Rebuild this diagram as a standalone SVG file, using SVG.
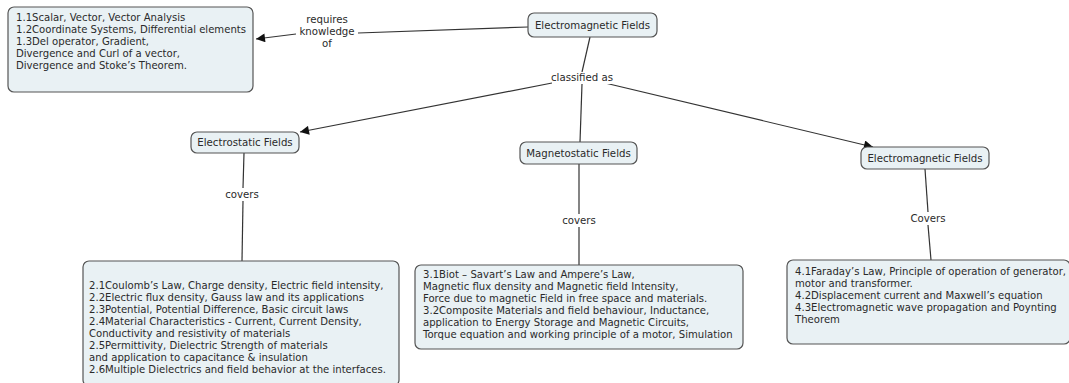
<svg xmlns="http://www.w3.org/2000/svg" width="1069" height="383" viewBox="0 0 1069 383">
<defs>
<marker id="arr" viewBox="0 0 10 10" refX="10" refY="5" markerWidth="12" markerHeight="9" markerUnits="userSpaceOnUse" orient="auto">
<path d="M0,0 L10,5 L0,10 z" fill="#111"/>
</marker>
<style>
.box{fill:#e9f1f4;stroke:#555;stroke-width:1.2}
.t{font-family:"DejaVu Sans",Verdana,sans-serif;font-size:10.1px;fill:#2a2a2a}
.n{font-family:"DejaVu Sans",Verdana,sans-serif;font-size:10.2px;fill:#2a2a2a;text-anchor:middle}
.l{font-family:"DejaVu Sans",Verdana,sans-serif;font-size:10.2px;fill:#2a2a2a;text-anchor:middle}
.c{stroke:#333;stroke-width:1.2;fill:none}
</style>
</defs>
<rect width="1069" height="383" fill="#fff"/>
<g id="connectors">
<line class="c" x1="296" y1="34" x2="256" y2="39" marker-end="url(#arr)"/>
<line class="c" x1="358" y1="33" x2="528" y2="27"/>
<line class="c" x1="590" y1="37" x2="582" y2="72"/>
<line class="c" x1="582" y1="84" x2="580" y2="142"/>
<line class="c" x1="552" y1="83" x2="300" y2="132" marker-end="url(#arr)"/>
<line class="c" x1="605" y1="83" x2="873" y2="147" marker-end="url(#arr)"/>
<line class="c" x1="244" y1="153" x2="243" y2="188"/>
<line class="c" x1="243" y1="201" x2="242" y2="261"/>
<line class="c" x1="579" y1="164" x2="579" y2="214"/>
<line class="c" x1="579" y1="227" x2="579" y2="265"/>
<line class="c" x1="925" y1="169" x2="928" y2="212"/>
<line class="c" x1="928" y1="225" x2="931" y2="260"/>
</g>
<g id="lbl-requires">
<rect x="297" y="13" width="60" height="36" fill="#fff"/>
<text class="l" x="327" y="23">requires</text>
<text class="l" x="327" y="35">knowledge</text>
<text class="l" x="327" y="47">of</text>
</g>
<g id="lbl-classified">
<rect x="552" y="72" width="62" height="12" fill="#fff"/>
<text class="l" x="582" y="81">classified as</text>
</g>
<g id="lbl-covers1">
<text class="l" x="242" y="198">covers</text>
</g>
<g id="lbl-covers2">
<text class="l" x="579" y="224">covers</text>
</g>
<g id="lbl-covers3">
<text class="l" x="928" y="222">Covers</text>
</g>
<g id="node-em-top">
<rect class="box" x="528" y="13" width="129" height="24" rx="6"/>
<text class="n" x="592.5" y="28.5">Electromagnetic Fields</text>
</g>
<g id="node-prereq">
<rect class="box" x="8" y="7" width="245" height="85" rx="6"/>
<text class="t" x="16" y="21">1.1Scalar, Vector, Vector Analysis</text>
<text class="t" x="16" y="33">1.2Coordinate Systems, Differential elements</text>
<text class="t" x="16" y="45">1.3Del operator, Gradient,</text>
<text class="t" x="16" y="57">Divergence and Curl of a vector,</text>
<text class="t" x="16" y="69">Divergence and Stoke’s Theorem.</text>
</g>
<g id="node-electrostatic">
<rect class="box" x="191" y="132" width="108" height="21" rx="6"/>
<text class="n" x="245" y="146">Electrostatic Fields</text>
</g>
<g id="node-magnetostatic">
<rect class="box" x="520" y="142" width="117" height="22" rx="6"/>
<text class="n" x="578.5" y="156.5">Magnetostatic Fields</text>
</g>
<g id="node-em-right">
<rect class="box" x="861" y="147" width="128" height="22" rx="6"/>
<text class="n" x="925" y="161.5">Electromagnetic Fields</text>
</g>
<g id="node-es-content">
<rect class="box" x="83" y="261" width="316" height="125" rx="6"/>
<text class="t" x="89" y="289">2.1Coulomb’s Law, Charge density, Electric field intensity,</text>
<text class="t" x="89" y="301">2.2Electric flux density, Gauss law and its applications</text>
<text class="t" x="89" y="313">2.3Potential, Potential Difference, Basic circuit laws</text>
<text class="t" x="89" y="325">2.4Material Characteristics - Current, Current Density,</text>
<text class="t" x="89" y="337">Conductivity and resistivity of materials</text>
<text class="t" x="89" y="349">2.5Permittivity, Dielectric Strength of materials</text>
<text class="t" x="89" y="361">and application to capacitance &amp; insulation</text>
<text class="t" x="89" y="373">2.6Multiple Dielectrics and field behavior at the interfaces.</text>
</g>
<g id="node-ms-content">
<rect class="box" x="415" y="265" width="328" height="84" rx="6"/>
<text class="t" x="423" y="278">3.1Biot – Savart’s Law and Ampere’s Law,</text>
<text class="t" x="423" y="290">Magnetic flux density and Magnetic field Intensity,</text>
<text class="t" x="423" y="302"> Force due to magnetic Field in free space and materials.</text>
<text class="t" x="423" y="314">3.2Composite Materials and field behaviour, Inductance,</text>
<text class="t" x="423" y="326">application to Energy Storage and Magnetic Circuits,</text>
<text class="t" x="423" y="338">Torque equation and working principle of a motor, Simulation</text>
</g>
<g id="node-em-content">
<rect class="box" x="787" y="260" width="283" height="84" rx="6"/>
<text class="t" x="795" y="275">4.1Faraday’s Law, Principle of operation of generator,</text>
<text class="t" x="795" y="287">motor and transformer.</text>
<text class="t" x="795" y="299">4.2Displacement current and Maxwell’s equation</text>
<text class="t" x="795" y="311">4.3Electromagnetic wave propagation and Poynting</text>
<text class="t" x="795" y="323">Theorem</text>
</g>
</svg>
